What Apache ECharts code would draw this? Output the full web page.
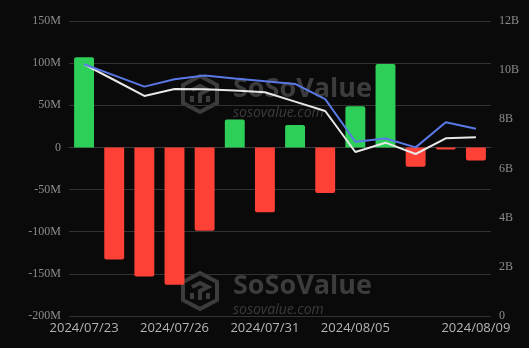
<!DOCTYPE html>
<html><head><meta charset="utf-8">
<script src="https://cdn.jsdelivr.net/npm/echarts@6/dist/echarts.min.js"></script>
<style>html,body{margin:0;padding:0;background:#0a0a0a;}#c{width:529px;height:348px;}</style>
</head><body><div id="c"></div>
<script>
const categories = ['2024/07/23','2024/07/24','2024/07/25','2024/07/26','2024/07/29','2024/07/30','2024/07/31','2024/08/01','2024/08/02','2024/08/05','2024/08/06','2024/08/07','2024/08/08','2024/08/09'];
const netInflow = [107e6,-133e6,-153e6,-163e6,-99e6,33e6,-77e6,26.5e6,-54e6,49e6,99e6,-23e6,-2.5e6,-15.5e6];
const netAssets = [10.24e9,9.79e9,9.33e9,9.63e9,9.78e9,9.66e9,9.55e9,9.44e9,8.82e9,7.09e9,7.22e9,6.86e9,7.88e9,7.62e9];
const otherLine = [10.24e9,9.60e9,8.95e9,9.23e9,9.22e9,9.17e9,9.10e9,8.72e9,8.34e9,6.67e9,7.05e9,6.59e9,7.23e9,7.27e9];
const shownLabels = [0,3,6,9,13];

function fmtM(v){ return v===0 ? '0' : (v/1e6)+'M'; }
function fmtB(v){ return v===0 ? '0' : (v/1e9)+'B'; }

function logo(x, y){
  const c = '#3c3c3c';
  return {
    type:'group', x:x, y:y, z:1, silent:true,
    children:[
      {type:'polygon', shape:{points:[[17,0],[34,9],[34,27],[17,36],[0,27],[0,9]]}, style:{fill:'none', stroke:c, lineWidth:4}},
      {type:'polyline', shape:{points:[[9,14],[17,10],[25,14],[17,18],[17,27]]}, style:{fill:'none', stroke:c, lineWidth:4}},
      {type:'polyline', shape:{points:[[9,20],[9,26]]}, style:{fill:'none', stroke:c, lineWidth:4}},
      {type:'polyline', shape:{points:[[25,20],[25,26]]}, style:{fill:'none', stroke:c, lineWidth:4}},
      {type:'text', x:50, y:0, style:{text:'SoSoValue', fill:c, font:'bold 27px "Open Sans", sans-serif'}},
      {type:'text', x:50, y:30, style:{text:'sosovalue.com', fill:c, font:'italic 14px "Open Sans", sans-serif'}}
    ]
  };
}

const chart = echarts.init(document.getElementById('c'));
chart.setOption({
  backgroundColor:'#0a0a0a',
  animation:false,
  graphic:[logo(183,76), logo(183,273)],
  grid:{left:69, right:38, top:21, bottom:32},
  xAxis:{
    type:'category', data:categories,
    axisLine:{show:true, lineStyle:{color:'#3a3a3a'}},
    axisTick:{show:false},
    axisLabel:{color:'#b4b4b4', fontSize:13, fontFamily:'"Open Sans", sans-serif', margin:6,
      interval:function(i){ return shownLabels.indexOf(i) >= 0; }}
  },
  yAxis:[
    {type:'value', min:-200e6, max:150e6, interval:50e6, position:'left',
     axisLabel:{color:'#8c8c8c', fontSize:12, fontFamily:'"Liberation Serif", serif', formatter:fmtM, margin:8},
     splitLine:{lineStyle:{color:'#333333'}}, axisLine:{show:false}, axisTick:{show:false}},
    {type:'value', min:0, max:12e9, interval:2e9, position:'right',
     axisLabel:{color:'#8c8c8c', fontSize:12, fontFamily:'"Liberation Serif", serif', formatter:fmtB, margin:8},
     splitLine:{show:false}, axisLine:{show:false}, axisTick:{show:false}}
  ],
  series:[
    {type:'bar', yAxisIndex:0, barWidth:'66%', z:3,
     data:netInflow.map(v=>({value:v, itemStyle:{color: v>=0 ? '#2ecf59' : '#fe4136', borderRadius: v>=0 ? [2,2,0,0] : [0,0,2,2]}}))},
    {type:'line', yAxisIndex:1, data:netAssets, symbol:'none', z:5,
     lineStyle:{color:'#5a78e6', width:2}},
    {type:'line', yAxisIndex:1, data:otherLine, symbol:'none', z:4,
     lineStyle:{color:'#e8e8e8', width:2}}
  ]
});
</script></body></html>
